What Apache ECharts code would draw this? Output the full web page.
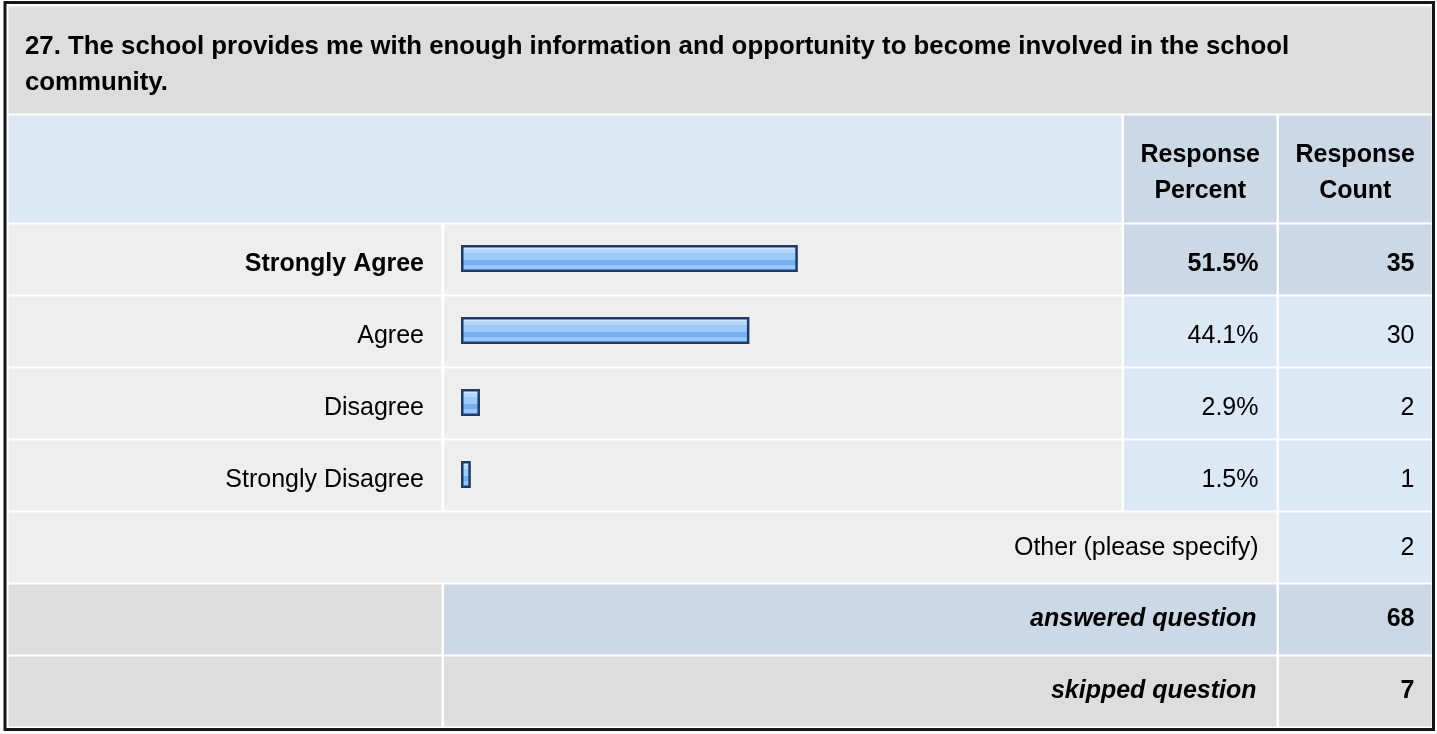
<!DOCTYPE html>
<html><head><meta charset="utf-8">
<script src="https://cdn.jsdelivr.net/npm/echarts@6/dist/echarts.min.js"></script>
<style>html,body{margin:0;padding:0;background:#fff}#c{width:1437px;height:734px}</style>
</head><body><div id="c"></div>
<script>
// ---- data ----
const titleLines = ['27. The school provides me with enough information and opportunity to become involved in the school', 'community.'];
const headerLabels = ['Response\nPercent', 'Response\nCount'];
const categories = ['Strongly Agree', 'Agree', 'Disagree', 'Strongly Disagree'];
const percents = [51.5, 44.1, 2.9, 1.5];
const counts = [35, 30, 2, 1];
const otherLabel = 'Other (please specify)';
const otherCount = 2;
const summaryLabels = ['answered question', 'skipped question'];
const summaryCounts = [68, 7];

// ---- layout & style ----
const FF = '"Liberation Sans", Arial, sans-serif';
const FS = 25;
const GREY = '#dddddd', LIGHT = '#eeeeee', BLUE1 = '#dde8f5', BLUE2 = '#ccd8e6';
const A0 = 8.5, A1 = 441.5, B0 = 444, B1 = 1121.5, C0 = 1124, C1 = 1276.5, D0 = 1279, D1 = 1431.5;
const ROW0 = 224.5, PITCH = 72, RH = 70;
const maxCount = Math.max(...counts);

const g = [];
function rect(x0, x1, y0, h, fill) {
  g.push({type: 'rect', z: 0, shape: {x: x0, y: y0, width: x1 - x0, height: h}, style: {fill: fill}});
}
function text(x, y, s, align, weight, style, extra, size) {
  g.push({type: 'text', z: 100, x: x, y: y, style: Object.assign({
    text: s, fill: '#000', align: align, verticalAlign: 'middle',
    font: (style || 'normal') + ' ' + (weight || 'normal') + ' ' + (size || FS) + 'px ' + FF
  }, extra || {})});
}

// title
rect(A0, D1, 6.5, 107, GREY);
text(25, 64.5, titleLines.join('\n'), 'left', 'bold', 'normal', {lineHeight: 36}, 25.8);
// header
rect(A0, B1, 115.5, 107, BLUE1);
rect(C0, C1, 115.5, 107, BLUE2);
rect(D0, D1, 115.5, 107, BLUE2);
text((C0 + C1) / 2, 173, headerLabels[0], 'center', 'bold', 'normal', {lineHeight: 36});
text((D0 + D1) / 2, 173, headerLabels[1], 'center', 'bold', 'normal', {lineHeight: 36});
// answer rows
categories.forEach(function (c, i) {
  const y = ROW0 + PITCH * i;
  const hi = counts[i] === maxCount;
  rect(A0, A1, y, RH, LIGHT);
  rect(B0, B1, y, RH, LIGHT);
  rect(C0, C1, y, RH, hi ? BLUE2 : BLUE1);
  rect(D0, D1, y, RH, hi ? BLUE2 : BLUE1);
  text(C1 - 18, y + RH / 2 + 5, percents[i].toFixed(1) + '%', 'right', hi ? 'bold' : 'normal');
  text(D1 - 17, y + RH / 2 + 5, String(counts[i]), 'right', hi ? 'bold' : 'normal');
});
// other row
(function () {
  const y = ROW0 + PITCH * categories.length;
  rect(A0, C1, y, RH, LIGHT);
  rect(D0, D1, y, RH, BLUE1);
  text(C1 - 18, y + RH / 2 + 1, otherLabel, 'right');
  text(D1 - 17, y + RH / 2 + 1, String(otherCount), 'right');
})();
// summary rows
summaryLabels.forEach(function (s, k) {
  const y = ROW0 + PITCH * (categories.length + 1 + k);
  const fill = k === 0 ? BLUE2 : GREY;
  rect(A0, A1, y, RH, GREY);
  rect(B0, C1, y, RH, fill);
  rect(D0, D1, y, RH, fill);
  text(C1 - 20, y + RH / 2, s, 'right', 'bold', 'italic');
  text(D1 - 17, y + RH / 2, String(summaryCounts[k]), 'right', 'bold');
});
// outer frame
g.push({type: 'rect', z: 200, shape: {x: 5, y: 2.5, width: 1428.5, height: 727}, style: {fill: 'none', stroke: '#161616', lineWidth: 3}});

const barFill = new echarts.graphic.LinearGradient(0, 0, 0, 1, [
  {offset: 0, color: '#d2e9ff'}, {offset: 0.15, color: '#d2e9ff'},
  {offset: 0.15, color: '#b3d7ff'}, {offset: 0.3, color: '#b3d7ff'},
  {offset: 0.3, color: '#9dcbff'}, {offset: 0.57, color: '#9dcbff'},
  {offset: 0.57, color: '#7aaef2'}, {offset: 0.75, color: '#7aaef2'},
  {offset: 0.75, color: '#95c6fe'}, {offset: 0.93, color: '#95c6fe'},
  {offset: 0.93, color: '#b8dcff'}, {offset: 1, color: '#b8dcff'}
]);

const chart = echarts.init(document.getElementById('c'), null, {renderer: 'canvas'});
chart.setOption({
  animation: false,
  backgroundColor: '#ffffff',
  grid: {left: 461, top: 222.5, width: 654, height: PITCH * categories.length, containLabel: false},
  xAxis: {type: 'value', min: 0, max: 100, show: false},
  yAxis: {
    type: 'category', data: categories, inverse: true,
    axisLine: {show: false}, axisTick: {show: false}, splitLine: {show: false},
    axisLabel: {
      margin: 37, color: '#000', fontSize: FS, fontFamily: FF, padding: [12, 0, 0, 0],
      formatter: function (v, i) { return counts[i] === maxCount ? '{b|' + v + '}' : v; },
      rich: {b: {fontWeight: 'bold', fontSize: FS, fontFamily: FF, color: '#000'}}
    }
  },
  series: [{
    type: 'bar', data: percents, barWidth: 27, z: 10,
    itemStyle: {color: barFill, borderColor: '#1e3a66', borderWidth: 2.5}
  }],
  graphic: {elements: g}
});
</script></body></html>
